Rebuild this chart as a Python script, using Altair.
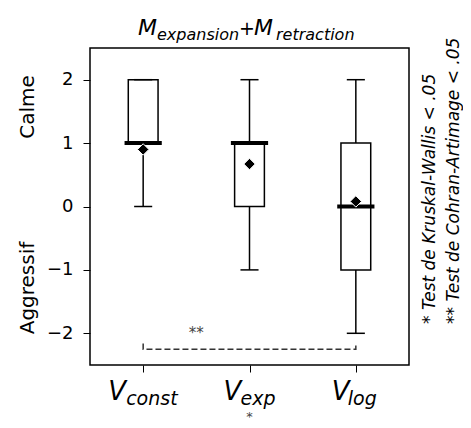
import altair as alt
import pandas as pd

# ---- data ----
categories = ["const", "exp", "log"]
positions = [1, 2, 3]
q1 = [1, 0, -1]
q3 = [2, 1, 1]
medians = [1, 1, 0]
whisk_lo = [0, -1, -2]
whisk_hi = [2, 2, 2]
means = [0.9, 0.67, 0.08]

# significance bracket (between V_const and V_log)
br_x = [1, 1, 3, 3]
br_y = [-2.16, -2.25, -2.25, -2.16]
br_order = [0, 1, 2, 3]
br_label = "**"
br_label_pos = [1.5, -2.0]

y_ticks = [-2, -1, 0, 1, 2]
x_ticks = [1, 2, 3]

FONT = "DejaVu Sans"
BOX_HALF = 0.14
MED_HALF = 0.175
CAP_HALF = 0.085

df = pd.DataFrame({
    "cat": categories, "pos": positions, "q1": q1, "q3": q3,
    "med": medians, "lo": whisk_lo, "hi": whisk_hi, "mean": means,
})

xs = alt.Scale(domain=[0.5, 3.5], nice=False, zero=False)
ys = alt.Scale(domain=[-2.5, 2.5], nice=False, zero=False)

base = alt.Chart(df).transform_calculate(
    bx1=f"datum.pos - {BOX_HALF}", bx2=f"datum.pos + {BOX_HALF}",
    mx1=f"datum.pos - {MED_HALF}", mx2=f"datum.pos + {MED_HALF}",
    cx1=f"datum.pos - {CAP_HALF}", cx2=f"datum.pos + {CAP_HALF}",
)

X = alt.X("pos:Q", scale=xs, axis=alt.Axis(values=x_ticks, labels=False, title=None,
                                            domain=False, grid=False, tickSize=7,
                                            tickColor="black", tickWidth=1))

whisk_low = base.mark_rule(color="black", strokeWidth=1.5).encode(
    x=X, y=alt.Y("lo:Q", scale=ys, axis=alt.Axis(values=y_ticks, title=None, domain=False,
                                                  grid=False, tickSize=7, tickColor="black",
                                                  format="d",
                                                  labelFontSize=18, labelFont=FONT,
                                                  labelColor="black", labelPadding=10)),
    y2="q1:Q")
whisk_high = base.mark_rule(color="black", strokeWidth=1.5).encode(
    x=X, y=alt.Y("q3:Q", scale=ys), y2="hi:Q")
boxes = base.mark_rect(fill="white", stroke="black", strokeWidth=1.5).encode(
    x=alt.X("bx1:Q", scale=xs), x2="bx2:Q", y=alt.Y("q1:Q", scale=ys), y2="q3:Q")
cap_lo = base.mark_rule(color="black", strokeWidth=1.5).encode(
    x=alt.X("cx1:Q", scale=xs), x2="cx2:Q", y=alt.Y("lo:Q", scale=ys))
cap_hi = base.mark_rule(color="black", strokeWidth=1.5).encode(
    x=alt.X("cx1:Q", scale=xs), x2="cx2:Q", y=alt.Y("hi:Q", scale=ys))
med = base.mark_rule(color="black", strokeWidth=4).encode(
    x=alt.X("mx1:Q", scale=xs), x2="mx2:Q", y=alt.Y("med:Q", scale=ys))
mean_pts = base.mark_point(shape="diamond", filled=True, fill="black", stroke="white",
                           strokeWidth=1, size=130, opacity=1).encode(
    x=alt.X("pos:Q", scale=xs), y=alt.Y("mean:Q", scale=ys))

br_df = pd.DataFrame({"x": br_x, "y": br_y, "o": br_order})
bracket = alt.Chart(br_df).mark_line(color="#333333", strokeWidth=1.5, strokeDash=[6, 3]).encode(
    x=alt.X("x:Q", scale=xs), y=alt.Y("y:Q", scale=ys), order="o:Q")
br_text = alt.Chart(pd.DataFrame({"x": [br_label_pos[0]], "y": [br_label_pos[1]], "t": [br_label]})).mark_text(
    font=FONT, fontSize=15, color="#444444", baseline="middle").encode(
    x=alt.X("x:Q", scale=xs), y=alt.Y("y:Q", scale=ys), text="t:N")

layers = [whisk_low, whisk_high, boxes, cap_lo, cap_hi, med, mean_pts, bracket, br_text]

# ---- x tick labels: V with italic subscript ----
v_dx = [-35, -26, -24]
sub_dx = [-17, -9, -8]
for cat, p, vd, sd in zip(categories, positions, v_dx, sub_dx):
    d = pd.DataFrame({"x": [p], "v": ["V"], "s": [cat]})
    layers.append(alt.Chart(d).mark_text(font=FONT, fontStyle="italic", fontSize=26, align="left",
                                         baseline="alphabetic", dx=vd, color="black").encode(
        x=alt.X("x:Q", scale=xs), y=alt.value(352), text="v:N"))
    layers.append(alt.Chart(d).mark_text(font=FONT, fontStyle="italic", fontSize=19, align="left",
                                         baseline="alphabetic", dx=sd, color="black").encode(
        x=alt.X("x:Q", scale=xs), y=alt.value(357), text="s:N"))

# star under x labels
layers.append(alt.Chart(pd.DataFrame({"x": [2], "t": ["*"]})).mark_text(
    font=FONT, fontSize=13, color="#444444", baseline="alphabetic").encode(
    x=alt.X("x:Q", scale=xs), y=alt.value(373), text="t:N"))

# ---- title: M_expansion + M_retraction ----
title_parts = ["M", "expansion", "+", "M", "retraction"]
title_x = [48, 67, 149, 164, 186]
title_y = [-13, -8, -13, -13, -8]
title_size = [22, 16, 19, 22, 16]
title_style = ["italic", "italic", "normal", "italic", "italic"]
for t, tx, ty, ts, st in zip(title_parts, title_x, title_y, title_size, title_style):
    layers.append(alt.Chart(pd.DataFrame({"t": [t]})).mark_text(
        font=FONT, fontSize=ts, fontStyle=st, align="left", baseline="alphabetic", color="black").encode(
        x=alt.value(tx), y=alt.value(ty), text="t:N"))

# ---- y side labels ----
side_labels = ["Calme", "Aggressif"]
side_y = [59, 240]
for t, sy in zip(side_labels, side_y):
    layers.append(alt.Chart(pd.DataFrame({"t": [t]})).mark_text(
        font=FONT, fontSize=20, angle=270, align="center", baseline="alphabetic", color="black").encode(
        x=alt.value(-56), y=alt.value(sy), text="t:N"))

# ---- right notes ----
notes = ["* Test de Kruskal-Wallis < .05", "** Test de Cohran-Artimage < .05"]
notes_x = [345, 369]
for t, nx in zip(notes, notes_x):
    layers.append(alt.Chart(pd.DataFrame({"t": [t]})).mark_text(
        font=FONT, fontSize=17, fontStyle="italic", angle=270, align="left", baseline="alphabetic",
        color="black").encode(
        x=alt.value(nx), y=alt.value(276), text="t:N"))

chart = alt.layer(*layers).properties(
    width=319, height=317,
    background="white",
    autosize=alt.AutoSizeParams(type="none"),
    padding={"left": 82, "top": 40, "right": 54, "bottom": 55},
).configure_view(stroke="black", strokeWidth=1.5)

chart.save("out.html", embed_options={"renderer": "svg", "actions": False})
